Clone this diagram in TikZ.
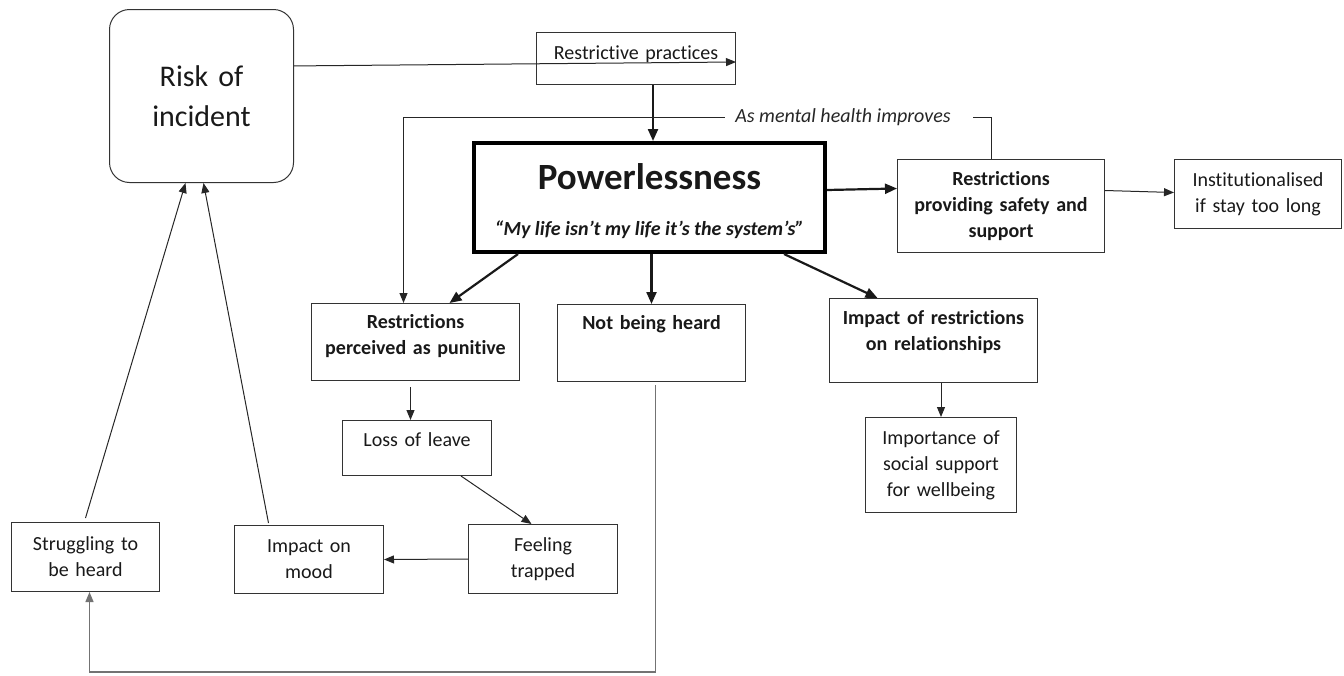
\documentclass[tikz,border=0pt]{standalone}
\usepackage{fontspec}
\setmainfont{Carlito}[Ligatures={NoCommon,NoContextual}, Contextuals={NoAlternate}]
\usetikzlibrary{arrows.meta,positioning}
\newcommand{\bodyfont}{\fontsize{10}{13}\selectfont}
\tikzset{
  box/.style={draw=black!80, line width=0.5pt, inner sep=0pt, align=center,
              font=\bodyfont, text=black!90, anchor=north west},
  bbox/.style={box, font=\bodyfont\bfseries},
  arr/.style={-{Triangle[length=5pt,width=4pt]}, black!85, line width=0.5pt},
  tarr/.style={-{Triangle[length=6pt,width=5pt]}, black!90, line width=1.1pt},
  garr/.style={-{Triangle[length=5pt,width=4pt]}, black!55, line width=0.7pt},
}
\begin{document}
\begin{tikzpicture}[x=0.5pt,y=-0.5pt]
  \useasboundingbox (0,0) rectangle (1344,675);
  % boxes
  \node[box, rounded corners=10pt, text width=92pt, minimum height=86.5pt,
        font=\fontsize{15}{20}\selectfont] (risk) at (109,9) {Risk of\\incident};
  \node[box, text width=99.5pt, text height=13.5pt, text depth=12.5pt] (restr) at (536,32) {Restrictive practices};
  \node[box, draw=black, line width=2pt, text width=175.5pt, text height=23pt, text depth=31.5pt,
        font=\fontsize{18.5}{22}\selectfont\bfseries] (power) at (472,141) {Powerlessness};
  \node[anchor=base, font=\fontsize{10}{12}\selectfont\bfseries\itshape, text=black!90] (quote)
        at ([yshift=9.5pt]power.south) {“My life isn’t my life it’s the system’s”};
  \node[bbox, text width=103.5pt, minimum height=46.5pt] (provide) at (897,159) {Restrictions\\providing safety and\\support};
  \node[box, text width=83.5pt, minimum height=34.5pt] (inst) at (1174,159) {Institutionalised\\if stay too long};
  \node[bbox, text width=104pt, text height=12.5pt, text depth=26pt] (percv) at (311,303) {Restrictions\\perceived as punitive};
  \node[bbox, text width=94pt, text height=12.5pt, text depth=26pt] (notheard) at (557,304) {Not being heard};
  \node[bbox, text width=104pt, text height=13pt, text depth=29pt] (impactrel) at (829,298) {Impact of restrictions\\on relationships};
  \node[box, text width=74.5pt, text height=13pt, text depth=14.5pt] (leave) at (342,420) {Loss of leave};
  \node[box, text width=75.5pt, minimum height=47.5pt] (import) at (865,417) {Importance of\\social support\\for wellbeing};
  \node[box, text width=74.5pt, minimum height=34.5pt] (trapped) at (468,524) {Feeling\\trapped};
  \node[box, text width=74.5pt, minimum height=34pt] (mood) at (234,525) {Impact on\\mood};
  \node[box, text width=74pt, minimum height=34.5pt] (strug) at (11,522) {Struggling to\\be heard};
  \node[font=\bodyfont\itshape, text=black!85, inner xsep=5pt, inner ysep=0pt] (mh) at (843,117) {As mental health improves};

  % connectors
  \coordinate (pn) at ([xshift=1.75pt]power.north);
  \coordinate (pv) at ([xshift=-6pt]percv.north);
  \coordinate (low) at (400,672);
  \draw[arr] (risk.18) -- (restr.-2);
  \draw[tarr] (pn |- restr.south) -- (pn);
  \draw[arr] (mh.west) -| (pv);
  \draw[black!85, line width=0.5pt] ([xshift=-4.75pt]provide.north) |- ([xshift=6pt]mh.east);
  \draw[tarr] ([yshift=3.75pt]power.east) -- ([yshift=8.75pt]provide.west);
  \draw[arr] ([yshift=7.75pt]provide.east) -- ([yshift=0.75pt]inst.west);
  \draw[tarr] ([xshift=23pt]power.south west) -- ([xshift=17pt]percv.north);
  \draw[tarr] (power.south -| notheard.north) -- (notheard.north);
  \draw[tarr] ([xshift=-21.5pt]power.south east) -- ([xshift=-28pt]impactrel.north);
  \draw[arr] ([xshift=-2.5pt,yshift=-3pt]percv.south) -- ([xshift=-3.25pt]leave.north);
  \draw[arr] ([xshift=-15.5pt]leave.south east) -- ([xshift=-5.75pt]trapped.north);
  \draw[arr] (trapped.west) -- (mood.east);
  \draw[arr] (impactrel.south -| import.north) -- (import.north);
  \draw[arr] ([yshift=2pt]strug.north) -- ([xshift=-8pt]risk.south);
  \draw[arr] ([xshift=-20.25pt,yshift=1pt]mood.north) -- ([xshift=1pt]risk.south);
  \draw[garr] ([xshift=2pt,yshift=-1.5pt]notheard.south) |- (low) -| ([xshift=2pt]strug.south);
\end{tikzpicture}
\end{document}
